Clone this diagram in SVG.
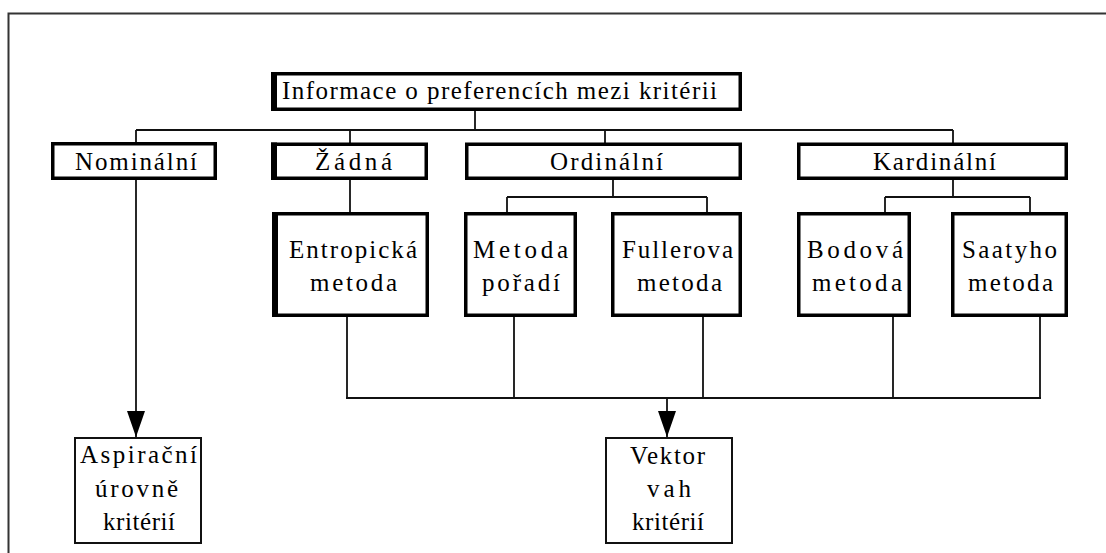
<svg xmlns="http://www.w3.org/2000/svg" width="1106" height="553" viewBox="0 0 1106 553">
<style>
text{font-family:"Liberation Serif","Times New Roman",serif;font-size:25px;fill:#000;}
.thick{fill:#fff;stroke:#000;stroke-width:3.5;}
.thin{fill:#fff;stroke:#111;stroke-width:2;}
.bar{fill:#000;}
.con{fill:none;stroke:#111;stroke-width:1.8;}
.frame{fill:none;stroke:#333;stroke-width:2;}
</style>
<defs>
<marker id="ah" viewBox="0 0 26 18" refX="26" refY="9" markerWidth="26" markerHeight="18" markerUnits="userSpaceOnUse" orient="auto">
<path d="M0,0 L26,9 L0,18 z" fill="#000"/>
</marker>
</defs>
<rect width="1106" height="553" fill="#fff"/>
<path class="frame" d="M8.5,553 V13.5 H1106"/>

<g id="connectors">
<path class="con" d="M475,111 V130 M136,130 H953 M136,130 V143 M350,130 V143 M605,130 V143 M953,130 V143"/>
<path class="con" d="M350,180 V212"/>
<path class="con" d="M613,180 V197 M507,197 H707 M507,197 V212 M707,197 V212"/>
<path class="con" d="M953,180 V197 M885,197 H1030 M885,197 V212 M1030,197 V212"/>
<path class="con" d="M347,317 V398 M514,317 V398 M703,317 V398 M893,317 V398 M1040,317 V398 M346,398 H1041"/>
<line class="con" x1="667" y1="398" x2="667" y2="437" marker-end="url(#ah)"/>
<line class="con" x1="136" y1="180" x2="136" y2="437" marker-end="url(#ah)"/>
</g>

<g id="n-informace">
<rect class="thick" x="272.75" y="73.75" width="467.5" height="35.5"/>
<rect class="bar" x="271" y="72" width="6" height="39"/>
<text x="282" y="99" textLength="435" lengthAdjust="spacing">Informace o preferencích mezi kritérii</text>
</g>

<g id="n-nominalni">
<rect class="thick" x="52.75" y="143.75" width="162.5" height="34.5"/>
<text x="75" y="170" textLength="122" lengthAdjust="spacing">Nominální</text>
</g>

<g id="n-zadna">
<rect class="thick" x="272.75" y="144.25" width="153.5" height="34"/>
<rect class="bar" x="271" y="142.5" width="6" height="37.5"/>
<text x="315" y="170" textLength="77" lengthAdjust="spacing">Žádná</text>
</g>

<g id="n-ordinalni">
<rect class="thick" x="466.75" y="144.25" width="273.5" height="34"/>
<text x="550" y="170" textLength="113" lengthAdjust="spacing">Ordinální</text>
</g>

<g id="n-kardinalni">
<rect class="thick" x="798.75" y="144.25" width="267.5" height="34"/>
<text x="873" y="170" textLength="123" lengthAdjust="spacing">Kardinální</text>
</g>

<g id="n-entropicka">
<rect class="thick" x="273.75" y="213.75" width="153.5" height="101.5"/>
<rect class="bar" x="272" y="212" width="6" height="105"/>
<text x="289" y="258" textLength="128" lengthAdjust="spacing">Entropická</text>
<text x="310" y="291" textLength="87" lengthAdjust="spacing">metoda</text>
</g>

<g id="n-poradi">
<rect class="thick" x="465.75" y="213.75" width="109.5" height="101.5"/>
<text x="473" y="258" textLength="95" lengthAdjust="spacing">Metoda</text>
<text x="482" y="291" textLength="78" lengthAdjust="spacing">pořadí</text>
</g>

<g id="n-fullerova">
<rect class="thick" x="612.75" y="213.75" width="127.5" height="101.5"/>
<text x="622" y="258" textLength="111" lengthAdjust="spacing">Fullerova</text>
<text x="637" y="291" textLength="85" lengthAdjust="spacing">metoda</text>
</g>

<g id="n-bodova">
<rect class="thick" x="798.75" y="213.75" width="110.5" height="101.5"/>
<text x="807" y="258" textLength="96" lengthAdjust="spacing">Bodová</text>
<text x="812" y="291" textLength="90" lengthAdjust="spacing">metoda</text>
</g>

<g id="n-saatyho">
<rect class="thick" x="952.75" y="213.75" width="113.5" height="101.5"/>
<text x="962" y="258" textLength="95" lengthAdjust="spacing">Saatyho</text>
<text x="968" y="291" textLength="85" lengthAdjust="spacing">metoda</text>
</g>

<g id="n-aspiracni">
<rect class="thin" x="75" y="438" width="126" height="105"/>
<text x="80" y="463" textLength="117" lengthAdjust="spacing">Aspirační</text>
<text x="95" y="497" textLength="83" lengthAdjust="spacing">úrovně</text>
<text x="103" y="530" textLength="72" lengthAdjust="spacing">kritérií</text>
</g>

<g id="n-vektor">
<rect class="thin" x="606" y="438" width="126" height="105"/>
<text x="630" y="464" textLength="75" lengthAdjust="spacing">Vektor</text>
<text x="647" y="497" textLength="44" lengthAdjust="spacing">vah</text>
<text x="632" y="530" textLength="72" lengthAdjust="spacing">kritérií</text>
</g>
</svg>
